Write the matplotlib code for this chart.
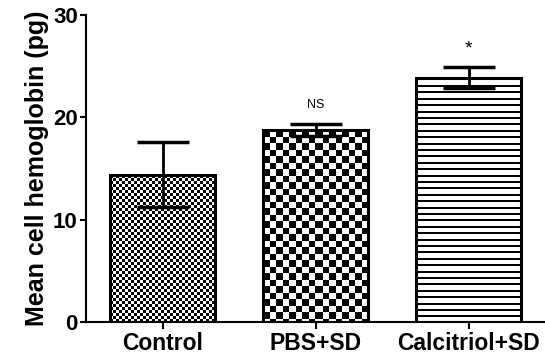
import numpy as np
import matplotlib
matplotlib.use('Agg')
import matplotlib.pyplot as plt

groups = ['Control', 'PBS+SD', 'Calcitriol+SD']
means = [14.4, 18.8, 23.9]
errors = [3.2, 0.6, 1.0]
marks = ['', 'NS', '*']
fills = ['fine', 'coarse', 'lines']

plt.rcParams['font.family'] = ['Liberation Sans', 'DejaVu Sans']


def pattern(kind, h, w):
    # 1 = white, 0 = black, one cell per output pixel
    yy, xx = np.mgrid[0:h, 0:w]
    if kind == 'fine':
        return ((xx // 3 + yy // 3) % 2).astype(float)
    if kind == 'coarse':
        return ((np.floor(xx / 6.5) + np.floor(yy / 6.5)) % 2).astype(float)
    return ((yy % 6.4) >= 2).astype(float)


fig = plt.figure(figsize=(5.45, 3.56), dpi=100)
ax = fig.add_axes([0.158, 0.0955, 0.842, 0.862])
ax.set_xlim(-0.5, 2.5)
ax.set_ylim(0, 30)

x = np.arange(len(groups))
width = 0.69

ax.bar(x, means, width, color='white', edgecolor='none', zorder=1)

inv = ax.transData.inverted()
for xi, m, kind in zip(x, means, fills):
    # snap the pattern image to whole pixels so it is drawn 1:1
    p0, p1 = np.round(ax.transData.transform([[xi - width / 2, 0], [xi + width / 2, m]]))
    (x0, y0), (x1, y1) = inv.transform([p0, p1])
    img = pattern(kind, int(p1[1] - p0[1]), int(p1[0] - p0[0]))
    ax.imshow(img, cmap='gray', vmin=0, vmax=1, extent=(x0, x1, y0, y1),
              origin='upper', aspect='auto', interpolation='none', zorder=1.5)

ax.bar(x, means, width, color='none', edgecolor='black', linewidth=2.2, zorder=2)
ax.errorbar(x, means, yerr=errors, fmt='none', ecolor='black', elinewidth=2,
            capsize=19, capthick=2.5, zorder=3)

for xi, m, e, t in zip(x, means, errors, marks):
    if t == '*':
        ax.text(xi, m + e + 1.0, t, ha='center', va='bottom', fontsize=14)
    elif t:
        ax.text(xi, m + e + 1.2, t, ha='center', va='bottom', fontsize=9)

ax.set_xlim(-0.5, 2.5)
ax.set_ylim(0, 30)
ax.set_yticks([0, 10, 20, 30])
ax.set_xticks(x)
ax.set_xticklabels(groups, fontsize=16.5, fontweight='bold')
for lab in ax.get_yticklabels():
    lab.set_fontsize(16)
    lab.set_fontweight('bold')
ax.set_ylabel('Mean cell hemoglobin (pg)', fontsize=18, fontweight='bold', labelpad=3)

for s in ['top', 'right']:
    ax.spines[s].set_visible(False)
for s in ['left', 'bottom']:
    ax.spines[s].set_linewidth(1.5)
ax.tick_params(axis='y', length=4, width=1.5, pad=2)
ax.tick_params(axis='x', length=5, width=1.5, pad=2)

fig.savefig('out.png', dpi=100)
